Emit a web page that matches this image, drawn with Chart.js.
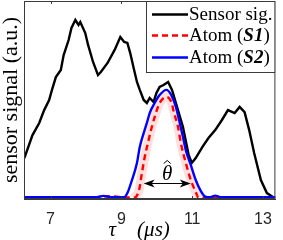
<!DOCTYPE html>
<html>
<head>
<meta charset="utf-8">
<script src="https://cdn.jsdelivr.net/npm/chart.js@4/dist/chart.umd.min.js"></script>
<style>
  html, body { margin: 0; padding: 0; background: #fff; }
  #wrap { width: 283px; height: 240px; }
</style>
</head>
<body>
<div id="wrap"><canvas id="chart"></canvas></div>
<script>
// sensor signal (time in us, normalised amplitude)
const tSensor = [6.26,6.49,6.68,6.82,6.96,7.04,7.15,7.29,7.37,7.51,7.59,7.70,7.79,7.84,7.98,8.06,8.20,8.34,8.42,8.61,8.81,8.97,9.08,9.17,9.25,9.36,9.44,9.52,9.63,9.72,9.80,9.91,9.99,10.08,10.19,10.32,10.43,10.54,10.74,10.90,10.99,11.10,11.29,11.46,11.65,11.84,12.01,12.20,12.34,12.48,12.61,12.75,12.94,13.11,13.30,13.35];
const ySensor = [0.207,0.323,0.384,0.449,0.500,0.551,0.616,0.652,0.727,0.803,0.864,0.904,0.879,0.894,0.838,0.778,0.692,0.626,0.641,0.687,0.753,0.818,0.793,0.788,0.737,0.652,0.591,0.551,0.500,0.485,0.510,0.490,0.535,0.566,0.576,0.591,0.551,0.485,0.364,0.222,0.182,0.207,0.263,0.308,0.348,0.399,0.449,0.434,0.465,0.439,0.348,0.232,0.096,0.030,0.008,0.006];

// atom S1 (red dashed)
const tS1 = [6.25,8.4,8.55,9.36,9.50,9.58,9.66,9.77,9.86,9.94,10.08,10.27,10.41,10.49,10.60,10.68,10.82,10.96,11.10,11.18,11.5,13.35];
const yS1 = [0.007,0.007,0.014,0.007,0.045,0.131,0.212,0.298,0.364,0.414,0.485,0.515,0.490,0.434,0.364,0.283,0.182,0.096,0.035,0.007,0.007,0.007];

// atom S2 (blue)
const tS2 = [6.25,8.3,8.5,8.7,9.08,9.17,9.30,9.44,9.52,9.63,9.72,9.80,9.94,10.08,10.27,10.41,10.54,10.63,10.74,10.82,10.96,11.10,11.23,11.37,11.51,11.65,11.8,13.35];
const yS2 = [0.009,0.009,0.016,0.009,0.009,0.030,0.096,0.182,0.263,0.333,0.384,0.434,0.485,0.525,0.551,0.525,0.465,0.399,0.313,0.247,0.172,0.096,0.045,0.012,0.009,0.017,0.009,0.009];

const xTicks = [7, 9, 11, 13];

// width marker (theta hat) in data units
const thetaFrom = 9.63;
const thetaTo = 10.96;
const thetaLevel = 0.081;

const pts = (xs, ys) => xs.map((x, i) => ({ x: x, y: ys[i] }));

const SERIF = '"Liberation Serif", "DejaVu Serif", serif';
const SANS = '"Liberation Sans", Arial, sans-serif';
const FRAME = '#3a3a3a';

// box, inward ticks, arrow + label, legend
const extras = {
    id: 'extras',
    afterDraw(chart) {
        const c = chart.ctx;
        const a = chart.chartArea;
        const xs = chart.scales.x;
        const ys = chart.scales.y;
        c.save();

        // frame
        c.strokeStyle = FRAME;
        c.lineWidth = 1;
        c.strokeRect(a.left + 0.5, a.top + 0.5, a.right - a.left - 1, a.bottom - a.top - 1);

        // inward ticks top & bottom
        xTicks.forEach(v => {
            const px = Math.round(xs.getPixelForValue(v)) + 0.5;
            c.beginPath();
            c.moveTo(px, a.bottom); c.lineTo(px, a.bottom - 3);
            c.moveTo(px, a.top); c.lineTo(px, a.top + 3);
            c.stroke();
        });

        // double arrow
        const x1 = xs.getPixelForValue(thetaFrom);
        const x2 = xs.getPixelForValue(thetaTo);
        const yy = Math.round(ys.getPixelForValue(thetaLevel)) + 0.5;
        c.strokeStyle = '#000';
        c.fillStyle = '#000';
        c.lineWidth = 1;
        c.beginPath(); c.moveTo(x1 + 4, yy); c.lineTo(x2 - 4, yy); c.stroke();
        const head = (x, dir) => {
            c.beginPath();
            c.moveTo(x, yy);
            c.lineTo(x + dir * 11, yy - 4);
            c.lineTo(x + dir * 8, yy);
            c.lineTo(x + dir * 11, yy + 4);
            c.closePath();
            c.fill();
        };
        head(x1, 1);
        head(x2, -1);

        // theta hat
        const xm = (x1 + x2) / 2;
        c.font = 'italic 21px ' + SERIF;
        c.textAlign = 'center';
        c.textBaseline = 'alphabetic';
        c.fillText('θ', xm, yy - 4);
        c.beginPath();
        c.moveTo(xm - 3.5, yy - 20); c.lineTo(xm, yy - 23); c.lineTo(xm + 3.5, yy - 20);
        c.stroke();

        // legend
        const lx = 146, ly = a.top, lw = a.right - 146, lh = 72;
        c.fillStyle = '#fff';
        c.fillRect(lx, ly, lw, lh);
        c.strokeStyle = FRAME;
        c.strokeRect(lx + 0.5, ly + 0.5, lw - 1, lh - 1);

        const rows = [
            { ds: 2, y: 14, parts: [['Sensor sig.', '']] },
            { ds: 1, y: 35, parts: [['Atom (', ''], ['S1', 'italic bold '], [')', '']] },
            { ds: 0, y: 57, parts: [['Atom (', ''], ['S2', 'italic bold '], [')', '']] }
        ];
        rows.forEach(r => {
            const d = chart.data.datasets[r.ds];
            c.strokeStyle = d.borderColor;
            c.lineWidth = d.borderWidth;
            c.setLineDash(d.borderDash || []);
            c.beginPath(); c.moveTo(152, r.y + 0.5); c.lineTo(188, r.y + 0.5); c.stroke();
            c.setLineDash([]);
            let tx = 189;
            c.fillStyle = '#000';
            c.textAlign = 'left';
            c.textBaseline = 'middle';
            r.parts.forEach(p => {
                c.font = p[1] + '19px ' + SERIF;
                c.fillText(p[0], tx, r.y + 1);
                tx += c.measureText(p[0]).width;
            });
        });
        c.restore();
    }
};

new Chart(document.getElementById('chart'), {
    type: 'line',
    data: {
        datasets: [
            {
                label: 'Atom (S2)',
                data: pts(tS2, yS2),
                borderColor: '#0000ff',
                borderWidth: 2.4,
                cubicInterpolationMode: 'monotone',
                pointRadius: 0
            },
            {
                label: 'Atom (S1)',
                data: pts(tS1, yS1),
                borderColor: '#ff0000',
                borderWidth: 2.4,
                borderDash: [6, 4],
                cubicInterpolationMode: 'monotone',
                pointRadius: 0
            },
            {
                label: 'Sensor sig.',
                data: pts(tSensor, ySensor),
                borderColor: '#000000',
                borderWidth: 2.4,
                tension: 0,
                pointRadius: 0
            },
            {
                // light band round the S1 pulse only
                label: 'S1 band',
                data: pts(tS1, yS1).slice(3, 20),
                borderColor: 'rgba(255, 0, 0, 0.13)',
                borderWidth: 9,
                cubicInterpolationMode: 'monotone',
                pointRadius: 0
            }
        ]
    },
    options: {
        responsive: true,
        maintainAspectRatio: false,
        animation: false,
        layout: { padding: { top: 1, right: 2, left: 0, bottom: 0 } },
        plugins: {
            legend: { display: false },
            tooltip: { enabled: false }
        },
        scales: {
            x: {
                type: 'linear',
                min: 6.25,
                max: 13.35,
                afterBuildTicks: s => { s.ticks = xTicks.map(v => ({ value: v })); },
                afterFit: s => { s.height = 41; },
                ticks: {
                    font: { family: SANS, size: 16 },
                    color: '#262626',
                    padding: 11,
                    maxRotation: 0
                },
                grid: { drawOnChartArea: false, drawTicks: false },
                border: { color: FRAME },
                title: {
                    display: true,
                    text: 'τ\u2003(μs)\u2003',
                    font: { family: SERIF, size: 21, style: 'italic', lineHeight: 1 },
                    color: '#000',
                    padding: { top: 0, bottom: -1 }
                }
            },
            y: {
                min: 0,
                max: 1,
                afterFit: s => { s.width = 24; },
                ticks: { display: false },
                grid: { drawOnChartArea: false, drawTicks: false },
                border: { color: FRAME },
                title: {
                    display: true,
                    text: 'sensor signal (a.u.)',
                    font: { family: SERIF, size: 22, lineHeight: 1 },
                    color: '#000',
                    padding: { top: 0, bottom: 0 }
                }
            }
        }
    },
    plugins: [extras]
});
</script>
</body>
</html>
